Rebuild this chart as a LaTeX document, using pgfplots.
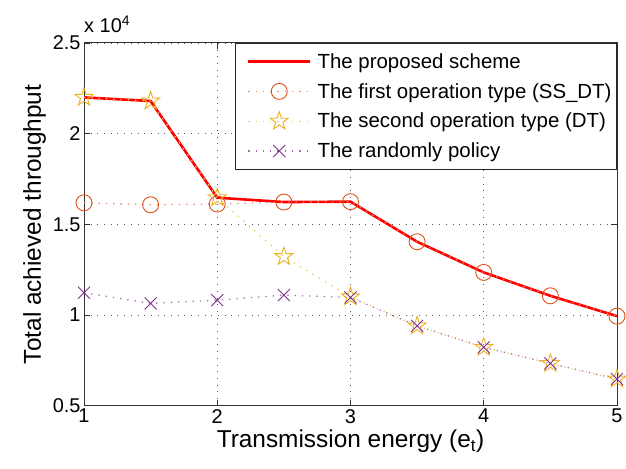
\documentclass[border=0pt]{standalone}
\usepackage{fontspec}
\setmainfont{Liberation Sans}
\usepackage{pgfplots}
\pgfplotsset{compat=1.18}
\definecolor{c1}{rgb}{0.85,0.325,0.098}
\definecolor{c2}{rgb}{0.929,0.694,0.125}
\definecolor{c3}{rgb}{0.494,0.184,0.556}
\pgfdeclareplotmark{pentagram}{%
  \pgfpathmoveto{\pgfpointpolar{90}{\pgfplotmarksize}}%
  \pgfpathlineto{\pgfpointpolar{126}{0.39\pgfplotmarksize}}%
  \pgfpathlineto{\pgfpointpolar{162}{\pgfplotmarksize}}%
  \pgfpathlineto{\pgfpointpolar{198}{0.39\pgfplotmarksize}}%
  \pgfpathlineto{\pgfpointpolar{234}{\pgfplotmarksize}}%
  \pgfpathlineto{\pgfpointpolar{270}{0.39\pgfplotmarksize}}%
  \pgfpathlineto{\pgfpointpolar{306}{\pgfplotmarksize}}%
  \pgfpathlineto{\pgfpointpolar{342}{0.39\pgfplotmarksize}}%
  \pgfpathlineto{\pgfpointpolar{18}{\pgfplotmarksize}}%
  \pgfpathlineto{\pgfpointpolar{54}{0.39\pgfplotmarksize}}%
  \pgfpathclose\pgfusepathqstroke}
\begin{document}
\begin{tikzpicture}
\path[use as bounding box] (-84bp,-63.3bp) rectangle (542bp,405.7bp);
\begin{axis}[
  at={(0,0)}, anchor=south west, scale only axis,
  width=533bp, height=362.7bp,
  xmin=1, xmax=5, ymin=5000, ymax=25000,
  xtick={1,2,3,4,5}, ytick={5000,10000,15000,20000,25000},
  scaled y ticks=base 10:-4,
  ytick scale label code/.code={x 10\textsuperscript{#1}},
  every y tick scale label/.style={at={(rel axis cs:0,1)}, anchor=base west, yshift=10bp, inner sep=0pt, font=\fontsize{20}{24}\selectfont},
  grid=major, major grid style={dash pattern=on 0.9bp off 5.8bp, black!65, line width=0.9bp},
  tick align=inside, major tick length=6bp,
  axis line style={line width=1pt, black!80},
  tick style={black!80, line width=0.8pt},
  /pgf/number format/assume math mode=true,
  ticklabel style={font=\fontsize{20}{24}\selectfont},
  label style={font=\fontsize{24.5}{28}\selectfont},
  xlabel={Transmission energy (e\textsubscript{t})},
  ylabel={Total achieved throughput},
  legend cell align=left,
  legend image code/.code={\path (-9bp,0bp) (66bp,0bp);\draw[mark repeat=2,mark phase=2,#1] plot coordinates {(0bp,0bp) (31bp,0bp) (62bp,0bp)};},
  legend style={at={(1,1)}, anchor=north east, draw=black!85, line width=0.9pt, fill=white,
    font=\fontsize{20.5}{24}\selectfont, row sep=9.5bp, inner xsep=3bp, inner ysep=8bp,
    nodes={inner sep=2bp}},
]
\addplot[red, line width=2.6bp] coordinates {(1,22000)(1.5,21800)(2,16470)(2.5,16230)(3,16250)(3.5,14040)(4,12350)(4.5,11060)(5,9940)};
\addlegendentry{The proposed scheme}
\addplot[c1!70, dash pattern=on 1.3bp off 6bp, line width=1.3bp, mark=o, mark size=8bp, mark options={solid, c1, line width=0.9bp}] coordinates {(1,16190)(1.5,16080)(2,16120)(2.5,16230)(3,16250)(3.5,14040)(4,12350)(4.5,11060)(5,9940)};
\addlegendentry{The first operation type (SS\_DT)}
\addplot[c2!70, dash pattern=on 1.3bp off 6bp, line width=1.3bp, mark=pentagram, mark size=9.5bp, mark options={solid, c2, line width=0.9bp}] coordinates {(1,22000)(1.5,21800)(2,16470)(2.5,13220)(3,11000)(3.5,9400)(4,8220)(4.5,7330)(5,6470)};
\addlegendentry{The second operation type (DT)}
\addplot[c3!70, dash pattern=on 1.3bp off 6bp, line width=1.3bp, mark=x, mark size=8.5bp, mark options={solid, c3, line width=0.9bp}] coordinates {(1,11230)(1.5,10640)(2,10820)(2.5,11100)(3,10970)(3.5,9400)(4,8220)(4.5,7330)(5,6470)};
\addlegendentry{The randomly policy}
\end{axis}
\end{tikzpicture}
\end{document}
